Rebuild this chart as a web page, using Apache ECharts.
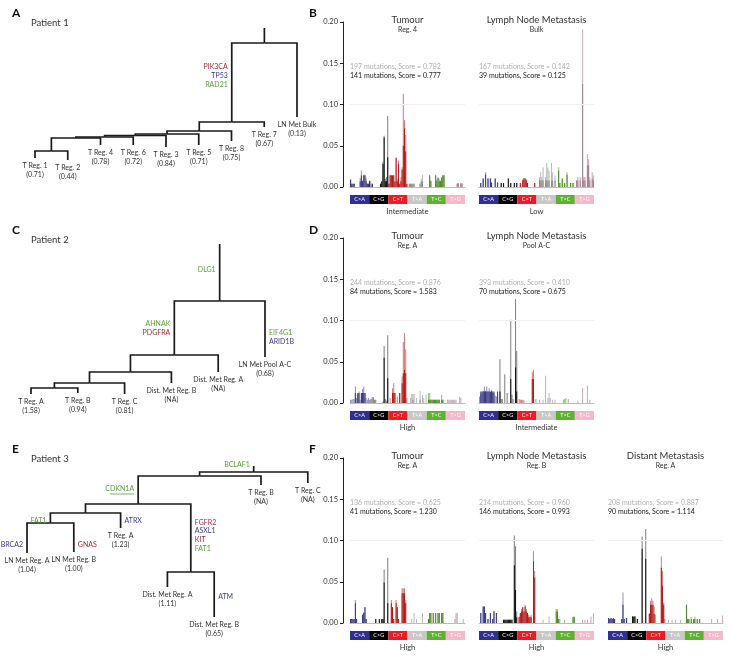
<!DOCTYPE html>
<html>
<head>
<meta charset="utf-8">
<script src="https://cdn.jsdelivr.net/npm/echarts@6/dist/echarts.min.js"></script>
<style>
html, body { margin: 0; padding: 0; background: #fff; }
#main { width: 731px; height: 656px; }
</style>
</head>
<body>
<div id="main"></div>
<script>
var FONT = 'Lato';

// ---- mutation spectra (values in thousandths of the fraction) ----
var groups = ['C>A', 'C>G', 'C>T', 'T>A', 'T>C', 'T>G'];
var yTicks = [0, 0.05, 0.10, 0.15, 0.20];

var tumour1All = [
  9, 4, 4, 4, 0, 0, 0, 0, 11, 20, 8, 15, 15, 10, 4, 4,
  8, 0, 4, 0, 0, 0, 0, 0, 0, 4, 6, 30, 62, 10, 12, 86,
  4, 15, 15, 14, 15, 6, 36, 10, 32, 4, 12, 24, 113, 81, 63, 4,
  0, 4, 4, 4, 4, 4, 0, 0, 0, 0, 4, 10, 15, 0, 0, 0,
  0, 0, 15, 8, 0, 0, 0, 15, 9, 12, 10, 8, 12, 15, 15, 0,
  0, 0, 0, 0, 0, 0, 0, 0, 0, 5, 5, 0, 5, 5, 0, 0];
var tumour1Sub = [
  9, 4, 4, 4, 0, 0, 0, 0, 7, 14, 7, 14, 14, 7, 4, 4,
  7, 0, 4, 0, 0, 0, 0, 0, 0, 4, 7, 28, 60, 7, 7, 36,
  4, 14, 14, 14, 14, 7, 35, 7, 28, 4, 7, 21, 50, 71, 43, 4,
  0, 4, 4, 4, 4, 4, 0, 0, 0, 0, 4, 7, 7, 0, 0, 0,
  0, 0, 14, 7, 0, 0, 0, 14, 7, 11, 7, 7, 11, 14, 14, 0,
  0, 0, 0, 0, 0, 0, 0, 0, 0, 4, 4, 0, 4, 4, 0, 0];
var lymph1All = [
  0, 5, 0, 11, 0, 18, 0, 11, 0, 11, 6, 0, 0, 11, 0, 6,
  0, 0, 5, 0, 5, 0, 0, 0, 11, 0, 5, 0, 0, 5, 0, 5,
  0, 0, 5, 0, 9, 11, 11, 9, 5, 0, 0, 0, 0, 0, 5, 0,
  0, 0, 12, 18, 12, 24, 0, 12, 29, 24, 20, 0, 29, 18, 0, 14,
  0, 0, 24, 5, 0, 11, 0, 5, 0, 18, 0, 0, 5, 0, 5, 0,
  0, 8, 12, 0, 12, 0, 191, 12, 12, 0, 40, 34, 12, 0, 18, 14];
var lymph1Sub = [
  0, 5, 0, 10, 0, 15, 0, 10, 0, 10, 5, 0, 0, 10, 0, 5,
  0, 0, 5, 0, 5, 0, 0, 0, 10, 0, 5, 0, 0, 5, 0, 5,
  0, 0, 5, 0, 8, 10, 10, 8, 5, 0, 0, 0, 0, 0, 5, 0,
  0, 0, 8, 8, 8, 8, 0, 8, 8, 8, 8, 0, 8, 8, 0, 8,
  0, 0, 20, 5, 0, 10, 0, 5, 0, 15, 0, 0, 5, 0, 5, 0,
  0, 8, 8, 0, 8, 0, 125, 8, 8, 0, 26, 26, 8, 0, 10, 8];
var tumour2All = [
  4, 4, 5, 5, 20, 6, 10, 14, 4, 12, 17, 20, 12, 6, 4, 6,
  4, 5, 7, 7, 4, 4, 0, 0, 0, 0, 0, 2, 69, 5, 3, 82,
  0, 6, 0, 18, 24, 12, 0, 8, 0, 12, 0, 32, 74, 85, 65, 6,
  0, 0, 6, 11, 11, 11, 0, 6, 0, 0, 15, 0, 10, 6, 0, 10,
  0, 12, 12, 4, 4, 4, 4, 4, 4, 4, 4, 0, 10, 4, 0, 0,
  0, 4, 4, 4, 4, 4, 4, 4, 4, 0, 0, 8, 6, 0, 0, 0];
var tumour2Sub = [
  0, 0, 0, 0, 12, 0, 12, 12, 0, 12, 12, 12, 12, 0, 0, 0,
  0, 0, 0, 0, 0, 0, 0, 0, 0, 0, 0, 0, 55, 0, 0, 30,
  0, 0, 0, 12, 12, 12, 0, 0, 0, 12, 0, 24, 36, 40, 36, 0,
  0, 0, 0, 0, 4, 0, 0, 0, 0, 0, 4, 0, 0, 0, 0, 0,
  0, 4, 4, 4, 4, 4, 4, 4, 4, 4, 4, 0, 4, 4, 0, 0,
  0, 0, 0, 0, 0, 0, 0, 0, 0, 0, 0, 0, 0, 0, 0, 0];
var lymph2All = [
  8, 10, 12, 15, 20, 15, 20, 14, 18, 13, 16, 12, 12, 9, 8, 10,
  0, 53, 5, 5, 0, 35, 0, 12, 0, 0, 101, 10, 5, 0, 126, 63,
  0, 5, 4, 4, 4, 3, 0, 0, 0, 0, 0, 0, 38, 40, 0, 5,
  0, 0, 4, 0, 0, 4, 0, 33, 0, 6, 12, 6, 0, 4, 0, 4,
  0, 0, 0, 0, 0, 0, 4, 5, 6, 0, 5, 0, 0, 0, 0, 0,
  0, 0, 3, 0, 0, 0, 18, 0, 0, 0, 21, 0, 4, 0, 0, 0];
var lymph2Sub = [
  0, 14, 14, 14, 14, 14, 14, 14, 14, 14, 14, 14, 14, 0, 0, 14,
  0, 14, 0, 0, 0, 0, 0, 0, 0, 0, 29, 0, 0, 0, 43, 14,
  0, 0, 0, 0, 0, 0, 0, 0, 0, 0, 0, 0, 29, 29, 0, 0,
  0, 0, 0, 0, 0, 0, 0, 0, 0, 0, 0, 0, 0, 0, 0, 0,
  0, 0, 0, 0, 0, 0, 0, 0, 0, 0, 0, 0, 0, 0, 0, 0,
  0, 0, 0, 0, 0, 0, 0, 0, 0, 0, 0, 0, 0, 0, 0, 0];
var tumour3All = [
  5, 5, 5, 5, 28, 5, 0, 0, 0, 0, 10, 13, 19, 5, 0, 0,
  0, 0, 0, 0, 0, 5, 0, 0, 5, 0, 5, 5, 65, 0, 0, 79,
  0, 0, 28, 19, 5, 0, 28, 19, 5, 0, 0, 42, 42, 42, 28, 0,
  0, 0, 0, 5, 0, 12, 0, 5, 0, 0, 0, 0, 12, 0, 0, 0,
  0, 5, 12, 12, 0, 12, 0, 12, 0, 12, 12, 0, 12, 12, 0, 0,
  0, 0, 0, 0, 0, 0, 0, 5, 12, 12, 0, 0, 0, 0, 5, 0];
var tumour3Sub = [
  5, 5, 5, 5, 24, 5, 0, 0, 0, 0, 10, 12, 19, 5, 0, 0,
  0, 0, 0, 0, 0, 5, 0, 0, 5, 0, 5, 5, 49, 0, 0, 24,
  0, 0, 24, 19, 5, 0, 24, 19, 5, 0, 0, 36, 36, 36, 24, 0,
  0, 0, 0, 0, 0, 0, 0, 0, 0, 0, 0, 0, 0, 0, 0, 0,
  0, 5, 12, 12, 0, 12, 0, 12, 0, 12, 12, 0, 12, 12, 0, 0,
  0, 0, 0, 0, 0, 0, 0, 0, 0, 0, 0, 0, 0, 0, 0, 0];
var lymph3All = [
  0, 12, 0, 20, 20, 12, 0, 5, 0, 12, 0, 5, 15, 0, 12, 0,
  0, 0, 0, 0, 4, 4, 4, 4, 4, 4, 4, 4, 0, 106, 93, 14,
  0, 8, 12, 17, 19, 14, 22, 17, 12, 10, 8, 10, 0, 87, 63, 0,
  0, 0, 0, 0, 0, 4, 0, 0, 0, 0, 8, 0, 0, 0, 0, 0,
  17, 17, 5, 5, 0, 0, 0, 4, 0, 0, 0, 0, 0, 0, 8, 8,
  0, 0, 0, 0, 0, 0, 4, 0, 4, 0, 4, 0, 0, 8, 0, 12];
var lymph3Sub = [
  0, 12, 0, 20, 20, 12, 0, 5, 0, 12, 0, 5, 14, 0, 12, 0,
  0, 0, 0, 0, 4, 4, 4, 4, 4, 4, 4, 4, 0, 70, 40, 7,
  0, 7, 12, 14, 19, 14, 20, 14, 12, 7, 7, 7, 0, 75, 55, 0,
  0, 0, 0, 0, 0, 0, 0, 0, 0, 0, 0, 0, 0, 0, 0, 0,
  14, 14, 5, 0, 0, 0, 0, 0, 0, 0, 0, 0, 0, 0, 7, 7,
  0, 0, 0, 0, 0, 0, 0, 0, 0, 0, 0, 0, 0, 0, 0, 0];
var distant3All = [
  6, 5, 6, 5, 6, 5, 0, 0, 0, 0, 0, 5, 37, 5, 0, 6,
  0, 0, 0, 0, 8, 8, 8, 0, 5, 0, 0, 0, 105, 0, 0, 114,
  0, 0, 12, 27, 30, 27, 20, 10, 0, 0, 0, 0, 81, 63, 25, 5,
  0, 0, 4, 0, 0, 4, 0, 0, 4, 0, 0, 0, 4, 0, 0, 0,
  0, 22, 5, 5, 0, 8, 0, 5, 8, 0, 5, 0, 5, 0, 0, 0,
  0, 0, 0, 0, 0, 0, 5, 0, 0, 0, 0, 5, 0, 0, 0, 9];
var distant3Sub = [
  6, 5, 6, 5, 6, 5, 0, 0, 0, 0, 0, 5, 22, 5, 0, 6,
  0, 0, 0, 0, 8, 8, 8, 0, 5, 0, 0, 0, 90, 0, 0, 78,
  0, 0, 11, 22, 22, 22, 11, 0, 0, 0, 0, 0, 67, 45, 22, 0,
  0, 0, 0, 0, 0, 0, 0, 0, 0, 0, 0, 0, 0, 0, 0, 0,
  0, 22, 5, 5, 0, 5, 0, 5, 5, 0, 5, 0, 5, 0, 0, 0,
  0, 0, 0, 0, 0, 0, 0, 0, 0, 0, 0, 0, 0, 0, 0, 0];

var spectra = [
  { row: 0, col: 0, title: 'Tumour', sub: 'Reg. 4', all: tumour1All, part: tumour1Sub,
    allText: '197 mutations, Score = 0.782', partText: '141 mutations, Score = 0.777', level: 'Intermediate' },
  { row: 0, col: 1, title: 'Lymph Node Metastasis', sub: 'Bulk', all: lymph1All, part: lymph1Sub,
    allText: '167 mutations, Score = 0.142', partText: '39 mutations, Score = 0.125', level: 'Low' },
  { row: 1, col: 0, title: 'Tumour', sub: 'Reg. A', all: tumour2All, part: tumour2Sub,
    allText: '244 mutations, Score = 0.876', partText: '84 mutations, Score = 1.583', level: 'High' },
  { row: 1, col: 1, title: 'Lymph Node Metastasis', sub: 'Pool A-C', all: lymph2All, part: lymph2Sub,
    allText: '393 mutations, Score = 0.410', partText: '70 mutations, Score = 0.675', level: 'Intermediate' },
  { row: 2, col: 0, title: 'Tumour', sub: 'Reg. A', all: tumour3All, part: tumour3Sub,
    allText: '136 mutations, Score = 0.625', partText: '41 mutations, Score = 1.230', level: 'High' },
  { row: 2, col: 1, title: 'Lymph Node Metastasis', sub: 'Reg. B', all: lymph3All, part: lymph3Sub,
    allText: '214 mutations, Score = 0.960', partText: '146 mutations, Score = 0.993', level: 'High' },
  { row: 2, col: 2, title: 'Distant Metastasis', sub: 'Reg. A', all: distant3All, part: distant3Sub,
    allText: '208 mutations, Score = 0.887', partText: '90 mutations, Score = 1.114', level: 'High' }
];

// ---- phylogenetic trees ----
// leaves in drawing order, their scores, depth of each leaf tip;
// merges: [childA, childB, depth]; children are leaf indices or 'm<k>'
var tree1Leaves = ['T Reg. 1', 'T Reg. 2', 'T Reg. 4', 'T Reg. 6', 'T Reg. 3', 'T Reg. 5', 'T Reg. 8', 'T Reg. 7', 'LN Met Bulk'];
var tree1Scores = ['0.71', '0.44', '0.78', '0.72', '0.84', '0.71', '0.75', '0.67', '0.13'];
var tree1Tips = [130, 132, 117, 117, 119, 117, 113, 99, 89];
var tree1Merges = [[0, 1, 123], ['m0', 2, 110], ['m1', 3, 109], ['m2', 4, 107.5], ['m3', 5, 106], ['m4', 6, 103], ['m5', 7, 94], ['m6', 8, 15]];
var tree1Genes = [['m6', 'left', 48, [['PIK3CA', 'r'], ['TP53', 'b'], ['RAD21', 'g']]]];

var tree2Leaves = ['T Reg. A', 'T Reg. B', 'T Reg. C', 'Dist. Met Reg. B', 'Dist. Met Reg. A', 'LN Met Pool A-C'];
var tree2Scores = ['1.58', '0.94', '0.81', 'NA', 'NA', '0.68'];
var tree2Tips = [150, 149, 150, 139, 128, 113];
var tree2Merges = [[0, 1, 144], ['m0', 2, 139], ['m1', 3, 128], ['m2', 4, 111], ['m3', 5, 57]];
var tree2Genes = [
  ['m4', 'left', 26, [['DLG1', 'g']]],
  ['m3', 'left', 84, [['AHNAK', 'g'], ['PDGFRA', 'r']]],
  [5, 'right', 93.5, [['EIF4G1', 'g'], ['ARID1B', 'b']]]
];

var tree3Leaves = ['LN Met Reg. A', 'LN Met Reg. B', 'T Reg. A', 'Dist. Met Reg. A', 'Dist. Met Reg. B', 'T Reg. B', 'T Reg. C'];
var tree3Scores = ['1.04', '1.00', '1.23', '1.11', '0.65', 'NA', 'NA'];
var tree3Tips = [87, 86, 62, 121, 151, 19, 17];
var tree3Merges = [[0, 1, 57], ['m0', 2, 47], [3, 4, 106], ['m1', 'm2', 38], ['m3', 5, 10], ['m4', 6, 6]];
var tree3Genes = [
  ['m5', 'left', -1, [['BCLAF1', 'g']]],
  ['m3', 'left', 23, [['CDKN1A', 'g', 1]]],
  ['m0', 'left', 55, [['FAT1', 'g']]],
  [2, 'right', 55, [['ATRX', 'b']]],
  [0, 'left', 79, [['BRCA2', 'b']]],
  [1, 'right', 79, [['GNAS', 'r']]],
  ['m2', 'right', 69.5, [['FGFR2', 'r'], ['ASXL1', 'b'], ['KIT', 'r'], ['FAT1', 'g']]],
  [4, 'right', 131, [['ATM', 'b']]]
];

// ---- styling / layout ----
var stripColors = ['#2e3192', '#000000', '#ed1c24', '#c8c8c8', '#5fb230', '#f6b8cb'];
var allColors = ['rgba(70,70,140,0.6)', 'rgba(0,0,0,0.5)', 'rgba(175,20,20,0.55)', 'rgba(140,140,140,0.6)', 'rgba(70,140,30,0.55)', 'rgba(150,100,120,0.55)'];
var subColors = ['#35357f', '#111111', '#b21a1a', '#8e8e8e', '#4b8a25', '#a08090'];
var geneColors = { r: '#a32e38', b: '#3c3c8e', g: '#5c9c3c' };
var rowTops = [22, 238, 458];
var colLefts = [350, 479, 608];
var plotW = 115, plotH = 165;

var bases = ['A', 'C', 'G', 'T'];
var contexts = [];
groups.forEach(function (g) {
  bases.forEach(function (a) {
    bases.forEach(function (b) { contexts.push(a + '[' + g + ']' + b); });
  });
});

var grids = [], xAxes = [], yAxes = [], series = [], graphics = [];

function txt(x, y, text, size, color, align, weight) {
  graphics.push({
    type: 'text', x: x, y: y, silent: true,
    style: {
      text: text, fill: color || '#333',
      font: (weight || 'normal') + ' ' + size + 'px ' + FONT,
      align: align || 'left', textAlign: align || 'left',
      verticalAlign: 'middle', textVerticalAlign: 'middle'
    }
  });
}

spectra.forEach(function (s) {
  var left = colLefts[s.col], top = rowTops[s.row];
  var gi = grids.length;
  grids.push({ left: left, top: top, width: plotW, height: plotH, outerBoundsMode: 'none' });
  xAxes.push({
    gridIndex: gi, type: 'category', data: contexts,
    axisLine: { lineStyle: { color: '#bdbdbd', width: 1 } },
    axisTick: { show: false }, axisLabel: { show: false }
  });
  yAxes.push({
    gridIndex: gi, type: 'value', min: yTicks[0], max: yTicks[yTicks.length - 1], interval: 0.05,
    show: s.col === 0, offset: 7,
    axisLine: { show: true, lineStyle: { color: '#222', width: 1 } },
    axisTick: { show: true, length: 3, lineStyle: { color: '#222' } },
    axisLabel: { fontSize: 7.5, fontFamily: FONT, color: '#333', margin: 5,
      formatter: function (v) { return v.toFixed(2); } },
    splitLine: { show: false }
  });
  series.push({
    type: 'bar', xAxisIndex: gi, yAxisIndex: gi, silent: true,
    data: s.all.map(function (v) { return v / 1000; }),
    barCategoryGap: '15%', barGap: '-100%',
    itemStyle: { color: function (p) { return allColors[Math.floor(p.dataIndex / 16)]; } },
    markLine: {
      silent: true, symbol: 'none', label: { show: false },
      lineStyle: { color: '#efefef', type: 'solid', width: 1 },
      data: [{ yAxis: 0.1 }]
    }
  });
  series.push({
    type: 'bar', xAxisIndex: gi, yAxisIndex: gi, silent: true,
    data: s.part.map(function (v) { return v / 1000; }),
    barCategoryGap: '15%', barGap: '-100%',
    itemStyle: { color: function (p) { return subColors[Math.floor(p.dataIndex / 16)]; } }
  });

  // substitution-class strip
  var si = grids.length;
  grids.push({ left: left, top: top + plotH + 8, width: plotW, height: 9, outerBoundsMode: 'none' });
  xAxes.push({ gridIndex: si, type: 'category', data: groups, show: false });
  yAxes.push({ gridIndex: si, type: 'value', min: 0, max: 1, show: false });
  series.push({
    type: 'bar', xAxisIndex: si, yAxisIndex: si, silent: true,
    data: groups.map(function () { return 1; }),
    barCategoryGap: 0,
    itemStyle: { color: function (p) { return stripColors[p.dataIndex]; } },
    label: { show: true, position: 'inside', formatter: '{b}', fontSize: 5.5, fontFamily: FONT, color: '#fff' }
  });

  var cx = left + plotW / 2;
  txt(cx, top - 2, s.title, 9.5, '#333', 'center');
  txt(cx, top + 8, s.sub, 7, '#333', 'center');
  txt(left, top + 44.5, s.allText, 7, '#b0b0b0', 'left');
  txt(left, top + 53.5, s.partText, 7, '#222', 'left');
  txt(cx, top + plotH + 25, s.level, 7.5, '#333', 'center');
});

function buildTree(tips, merges) {
  var pos = {};
  tips.forEach(function (d, i) { pos[i] = { x: i, d: d }; });
  var edges = [];
  merges.forEach(function (m, j) {
    var a = pos[m[0]], b = pos[m[1]];
    var x = (a.x + b.x) / 2;
    pos['m' + j] = { x: x, d: m[2] };
    edges.push([a.x, a.d, m[2], x]);
    edges.push([b.x, b.d, m[2], x]);
  });
  var root = pos['m' + (merges.length - 1)];
  edges.push([root.x, root.d, 0, root.x]);
  return { pos: pos, edges: edges };
}

var trees = [
  { leaves: tree1Leaves, scores: tree1Scores, tips: tree1Tips, merges: tree1Merges, genes: tree1Genes,
    left: 35, step: 32.75, top: 28, depth: 140, letter: 'A', letter2: 'B', patient: 'Patient 1', ly: 13 },
  { leaves: tree2Leaves, scores: tree2Scores, tips: tree2Tips, merges: tree2Merges, genes: tree2Genes,
    left: 31, step: 46.8, top: 244, depth: 160, letter: 'C', letter2: 'D', patient: 'Patient 2', ly: 230 },
  { leaves: tree3Leaves, scores: tree3Scores, tips: tree3Tips, merges: tree3Merges, genes: tree3Genes,
    left: 27, step: 46.8, top: 466, depth: 170, letter: 'E', letter2: 'F', patient: 'Patient 3', ly: 449 }
];

trees.forEach(function (t) {
  var gi = grids.length;
  var n = t.leaves.length;
  grids.push({ left: t.left, top: t.top, width: (n - 1) * t.step, height: t.depth, outerBoundsMode: 'none' });
  xAxes.push({ gridIndex: gi, type: 'value', min: 0, max: n - 1, show: false });
  yAxes.push({ gridIndex: gi, type: 'value', min: 0, max: t.depth, inverse: true, show: false });
  var tree = buildTree(t.tips, t.merges);

  series.push({
    type: 'custom', xAxisIndex: gi, yAxisIndex: gi, silent: true,
    data: tree.edges,
    renderItem: function (params, api) {
      var a = api.coord([api.value(0), api.value(1)]);
      var b = api.coord([api.value(0), api.value(2)]);
      var c = api.coord([api.value(3), api.value(2)]);
      return { type: 'polyline', shape: { points: [a, b, c] },
        style: { stroke: '#1a1a1a', lineWidth: 1.7, fill: null } };
    }
  });

  var leafData = t.tips.map(function (d, i) { return [i, d]; });
  series.push({
    type: 'custom', xAxisIndex: gi, yAxisIndex: gi, silent: true,
    data: leafData,
    renderItem: function (params, api) {
      var p = api.coord([api.value(0), api.value(1)]);
      var i = params.dataIndex;
      return { type: 'text', x: p[0], y: p[1] + 3,
        style: { text: t.leaves[i] + '\n(' + t.scores[i] + ')', fill: '#333',
          font: '7px ' + FONT, lineHeight: 9, align: 'center', verticalAlign: 'top' } };
    }
  });

  var geneData = [];
  t.genes.forEach(function (g) {
    var node = tree.pos[g[0]];
    var k = g[3].length;
    g[3].forEach(function (gene, li) {
      geneData.push({ value: [node.x, g[2] + (li - (k - 1) / 2) * 8.8], gene: gene, side: g[1] });
    });
  });
  series.push({
    type: 'custom', xAxisIndex: gi, yAxisIndex: gi, silent: true,
    data: geneData.map(function (d) { return d.value; }),
    renderItem: function (params, api) {
      var d = geneData[params.dataIndex];
      var p = api.coord([api.value(0), api.value(1)]);
      var left = d.side === 'left';
      var x = p[0] + (left ? -4 : 4);
      var children = [{ type: 'text', x: x, y: p[1],
        style: { text: d.gene[0], fill: geneColors[d.gene[1]], font: '7px ' + FONT,
          align: left ? 'right' : 'left', verticalAlign: 'middle' } }];
      if (d.gene[2]) {
        children.push({ type: 'line', shape: { x1: x - 24, y1: p[1] + 5, x2: x, y2: p[1] + 5 },
          style: { stroke: geneColors[d.gene[1]], lineWidth: 0.8 } });
      }
      return { type: 'group', children: children };
    }
  });

  txt(12, t.ly, t.letter, 12, '#111', 'left', 'bold');
  txt(31, t.ly + 10, t.patient, 9.5, '#333', 'left');
  txt(309, t.ly, t.letter2, 12, '#111', 'left', 'bold');
});

var myChart = echarts.init(document.getElementById('main'));
myChart.setOption({
  animation: false,
  backgroundColor: '#fff',
  textStyle: { fontFamily: FONT },
  grid: grids,
  xAxis: xAxes,
  yAxis: yAxes,
  series: series,
  graphic: graphics
});
</script>
</body>
</html>
